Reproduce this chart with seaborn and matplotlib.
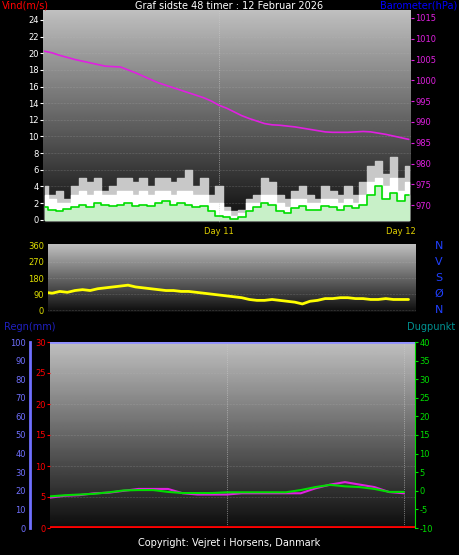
import numpy as np
import pandas as pd
import matplotlib
matplotlib.use("Agg")
import matplotlib.pyplot as plt
import seaborn as sns

sns.set_style("dark")
plt.rcParams['font.family'] = ['DejaVu Sans']
plt.rcParams['axes.unicode_minus'] = False

# hourly data, hours since start of the 48h window
hours = list(range(1, 50))
baro = [1007, 1006.6, 1006, 1005.5, 1005, 1004.6, 1004.2, 1003.8, 1003.4, 1003.3, 1003.2, 1002.5,
        1001.8, 1001, 1000.2, 999.4, 998.8, 998.2, 997.6, 997, 996.4, 995.8, 995, 994, 993.3,
        992.4, 991.5, 990.8, 990.2, 989.6, 989.3, 989.2, 989, 988.8, 988.5, 988.2, 987.9, 987.6,
        987.5, 987.5, 987.5, 987.6, 987.7, 987.6, 987.3, 987, 986.6, 986.2, 985.8]
gust = [4, 3, 3.5, 2.5, 4, 5, 4.5, 5, 3.5, 4, 5, 5, 4.5, 5, 4, 5, 5, 4.5, 5, 6, 4, 5, 3, 4,
        1.5, 1, 1.2, 2.5, 3, 5, 4.5, 3, 2.5, 3.5, 4, 3, 2.5, 4, 3.5, 3, 4, 3, 4.5, 6.5, 7, 5.5,
        7.5, 5, 6.5]
wind_hi = [3, 2.5, 2, 2, 3, 3.5, 3, 3.5, 3, 3, 3.5, 3.5, 3, 3.5, 3, 3.5, 3.5, 3, 3.5, 3.5, 3, 3, 2, 2,
           1, 0.5, 0.8, 2, 2, 3, 3, 2, 1.5, 2.5, 2.5, 2, 2, 2.5, 2.5, 2, 2.5, 2, 3, 4.5, 5, 4,
           5, 3.5, 4.5]
wind_avg = [1.5, 1.2, 1, 1.3, 1.5, 1.8, 1.5, 2, 1.8, 1.6, 1.8, 2, 1.7, 1.8, 1.6, 2, 2.2, 1.8, 2, 1.8, 1.5,
            1.6, 1, 0.5, 0.3, 0.1, 0.3, 1, 1.5, 2, 1.8, 1, 0.8, 1.4, 1.6, 1.2, 1.2, 1.6, 1.5, 1.2, 1.6,
            1.4, 1.8, 3, 4, 2.5, 3.2, 2.2, 3]
direction = [100, 95, 105, 100, 110, 115, 110, 120, 125, 130, 135, 140, 130, 125, 120, 115, 110, 110,
             105, 105, 100, 95, 90, 85, 80, 75, 70, 60, 55, 55, 60, 55, 50, 45, 35, 50, 55, 65, 65,
             70, 70, 65, 65, 60, 60, 65, 60, 60, 60]
hours2 = list(range(0, 50, 2))
temp = [4.9, 5.2, 5.3, 5.6, 5.7, 6.0, 6.3, 6.3, 6.3, 5.6, 5.4, 5.4, 5.4, 5.6, 5.6, 5.6, 5.6, 5.6,
        6.4, 7.0, 7.4, 7.0, 6.6, 5.8, 5.6]
dew = [-1.5, -1.2, -1.0, -0.8, -0.4, 0.1, 0.2, 0.2, -0.3, -0.6, -0.6, -0.6, -0.4, -0.4, -0.4, -0.4,
       -0.4, 0.2, 1.0, 1.6, 1.2, 1.0, 0.5, -0.3, -0.3]

W, H = 459, 555
fig = plt.figure(figsize=(W / 100, H / 100), dpi=100, facecolor='black')


def box(x0, y0, x1, y1):
    return fig.add_axes([x0 / W, 1 - y1 / H, (x1 - x0) / W, (y1 - y0) / H])


grad = np.linspace(0.75, 0.05, 200).reshape(-1, 1)


def style(ax, color):
    ax.set_facecolor('black')
    ax.imshow(grad, aspect='auto', cmap='gray', vmin=0, vmax=1, extent=[*ax.get_xlim(), *ax.get_ylim()],
              zorder=0)
    for s in ax.spines.values():
        s.set_visible(False)
    ax.tick_params(colors=color, labelsize=6, length=2, pad=1)
    ax.grid(axis='y', color='#bbbbbb', lw=0.4, ls=':', alpha=0.6)


# --- wind / barometer
ax1 = box(43, 10, 411, 223)
ax1.set_xlim(0.8, 49.3)
ax1.set_ylim(-0.4, 25.2)
style(ax1, 'white')
ax1.set_yticks(range(0, 25, 2))
ax1.set_xticks([24, 48])
ax1.set_xticklabels(['Day 11', 'Day 12'], color='#e0d000', fontsize=6)
ax1.axvline(24, color='#cccccc', lw=0.5, ls=':')
ax1.fill_between(hours, gust, step='mid', color='#c8c8c8')
ax1.fill_between(hours, wind_hi, step='mid', color='white')
ax1.fill_between(hours, wind_avg, step='mid', color='#c8f0c8')
sns.lineplot(x=hours, y=wind_avg, ax=ax1, color='#00dd00', lw=1.2, drawstyle='steps-mid')
ax1b = ax1.twinx()
ax1b.set_ylim(965.7, 1016.9)
sns.lineplot(x=hours, y=baro, ax=ax1b, color='#e020e0', lw=1.2)
ax1b.tick_params(colors='#e020e0', labelsize=6, length=2, pad=1)
for s in ax1b.spines.values():
    s.set_visible(False)
ax1b.set_yticks(range(970, 1016, 5))
fig.text(2 / W, 1 - 9 / H, 'Vind(m/s)', color='red', fontsize=7)
fig.text(0.5, 1 - 9 / H, 'Graf sidste 48 timer : 12 Februar 2026', color='white', fontsize=7, ha='center')
fig.text(457 / W, 1 - 9 / H, 'Barometer(hPa)', color='blue', fontsize=7, ha='right')

# --- wind direction
ax2 = box(48, 244, 416, 312)
ax2.set_xlim(24 - (219 - 48) / 7.58, 24 + (416 - 219) / 7.58)
ax2.set_ylim(-10, 370)
style(ax2, '#e0e000')
ax2.set_yticks([0, 90, 180, 270, 360])
ax2.set_xticks([])
sns.lineplot(x=hours, y=direction, ax=ax2, color='yellow', lw=2)
for i, t in enumerate('NVSØN'):
    fig.text(439 / W, 1 - (246 + i * 16) / H, t, color='#2040ff', fontsize=8, ha='center', va='center')

# --- rain / temperature / dew point
fig.text(4 / W, 1 - 330 / H, 'Regn(mm)', color='#2020c0', fontsize=7)
fig.text(455 / W, 1 - 330 / H, 'Dugpunkt', color='#009090', fontsize=7, ha='right')
ax3 = box(50, 342, 415, 528)
ax3.set_xlim(0, 49.5)
ax3.set_ylim(0, 30)
style(ax3, 'red')
ax3.set_yticks(range(0, 31, 5))
ax3.set_xticks([])
ax3.axvline(24, color='#cccccc', lw=0.5, ls=':')
ax3.axvline(48, color='#cccccc', lw=0.5, ls=':')
ax3.axhline(30, color='#9090ff', lw=2)
ax3.plot([0, 49.5], [0.1, 0.1], color='red', lw=2)
sns.lineplot(x=hours2, y=temp, ax=ax3, color='#e020e0', lw=1.5)
ax3b = ax3.twinx()
ax3b.set_ylim(-10, 40)
sns.lineplot(x=hours2, y=dew, ax=ax3b, color='#00dd00', lw=1.5)
ax3b.tick_params(colors='#00dd00', labelsize=6, length=2, pad=1)
ax3b.set_yticks(range(-10, 41, 5))
for s in ax3b.spines.values():
    s.set_visible(False)
ax3b.spines['right'].set_visible(True)
ax3b.spines['right'].set_color('#00dd00')
ax3r = box(30, 342, 30.1, 528)
ax3r.set_ylim(0, 100)
ax3r.set_xticks([])
ax3r.set_facecolor('black')
for s in ax3r.spines.values():
    s.set_visible(False)
ax3r.spines['left'].set_visible(True)
ax3r.spines['left'].set_color('#7070ff')
ax3r.spines['left'].set_linewidth(2)
ax3r.tick_params(colors='#7070ff', labelsize=6, length=2, pad=1)
ax3r.set_yticks(range(0, 101, 10))

fig.text(0.5, 1 - 546 / H, 'Copyright: Vejret i Horsens, Danmark', color='white', fontsize=7, ha='center')
fig.savefig('out.png', dpi=100, facecolor='black')
